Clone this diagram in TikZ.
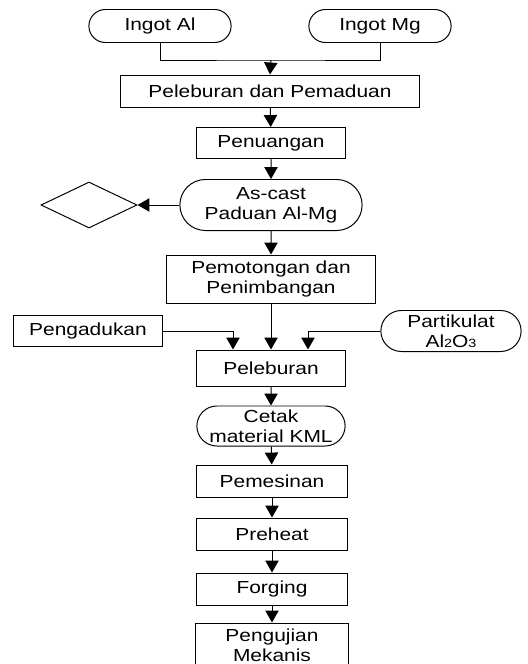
\documentclass[tikz,border=0pt]{standalone}
\usepackage{fontspec}
\setmainfont{Liberation Sans}[FakeStretch=1.2]
\usetikzlibrary{shapes.misc,shapes.geometric,arrows.meta}

\tikzset{
  proc/.style={draw, rectangle, line width=0.7pt, align=center, inner sep=1pt},
  term/.style={draw, rounded rectangle, line width=0.7pt, align=center, inner sep=1pt},
  alur/.style={line width=0.7pt, -{Triangle[width=9.5pt,length=8.5pt]}},
  garis/.style={line width=0.7pt}
}

\begin{document}
\begin{tikzpicture}[x=0.025cm, y=-0.025cm, font=\fontsize{12.4}{14}\selectfont]
    \useasboundingbox (0,0) rectangle (527,664);
    \node[term, minimum width=3.625cm, minimum height=0.825cm] (ingotal) at (160,26) {Ingot Al};
    \node[term, minimum width=3.625cm, minimum height=0.825cm] (ingotmg) at (380,26) {Ingot Mg};
    \coordinate (gabung) at (271,60);
    \node[proc, minimum width=7.45cm, minimum height=0.8cm] (lebur1) at (270,91) {Peleburan dan Pemaduan};
    \node[proc, minimum width=3.725cm, minimum height=0.775cm] (tuang) at (271,143) {Penuangan};
    \node[term, minimum width=4.625cm, minimum height=1.275cm] (ascast) at (271,205) {As-cast\\Paduan Al-Mg};
    \node[draw, diamond, line width=0.7pt, inner sep=0pt, minimum width=2.4cm, minimum height=1.15cm] (cek) at (89,205) {};
    \node[proc, minimum width=5.225cm, minimum height=1.2cm] (potong) at (271,279) {Pemotongan dan\\Penimbangan};
    \node[proc, minimum width=3.725cm, minimum height=0.775cm] (aduk) at (88,331) {Pengadukan};
    \node[term, minimum width=3.575cm, minimum height=1.025cm] (partikel) at (451,331) {Partikulat\\Al{\fontsize{8.5}{9}\selectfont 2}O{\fontsize{8.5}{9}\selectfont 3}};
    \node[proc, minimum width=3.725cm, minimum height=0.9cm] (lebur2) at (271,368) {Peleburan};
    \node[term, minimum width=3.775cm, minimum height=1.0cm] (cetak) at (271,426) {Cetak\\material KML};
    \node[proc, minimum width=3.775cm, minimum height=0.8cm] (mesin) at (272,481) {Pemesinan};
    \node[proc, minimum width=3.775cm, minimum height=0.8cm] (panas) at (272,534) {Preheat};
    \node[proc, minimum width=3.775cm, minimum height=0.8cm] (tempa) at (272,589) {Forging};
    \node[proc, minimum width=3.825cm, minimum height=1.1cm] (uji) at (272,645) {Pengujian\\Mekanis};
%   alur utama
    \draw[garis] (ingotal.south) |- (gabung) -| (ingotmg.south);
    \draw[alur] (gabung) -- (lebur1.north);
    \draw[alur] (lebur1) -- (tuang);
    \draw[alur] (tuang) -- (ascast);
    \draw[alur] (ascast.west) -- (cek.east);
    \draw[alur] (ascast) -- (potong);
    \draw[alur] (potong) -- (lebur2);
    \draw[alur] (aduk.east) -| ([xshift=-0.95cm]lebur2.north);
    \draw[alur] (partikel.west) -| ([xshift=0.925cm]lebur2.north);
    \draw[alur] (lebur2) -- (cetak);
    \draw[alur] (cetak) -- (mesin);
    \draw[alur] (mesin) -- (panas);
    \draw[alur] (panas) -- (tempa);
    \draw[alur] (tempa) -- (uji);
\end{tikzpicture}
\end{document}
